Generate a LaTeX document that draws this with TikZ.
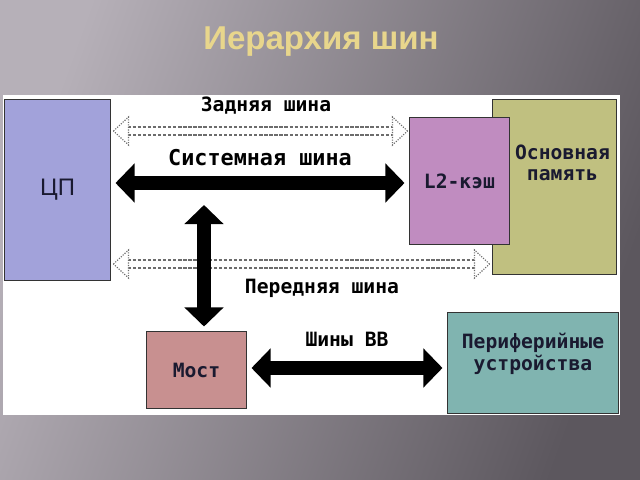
\documentclass[tikz,border=0pt]{standalone}
\usepackage{fontspec}
\setmainfont{Liberation Sans}
\newfontfamily\busfont{DejaVu Sans Mono}
\usepackage{tikz}
\usetikzlibrary{arrows.meta, positioning, calc}

\definecolor{bglight}{RGB}{182,176,184}
\definecolor{bgdark}{RGB}{92,87,94}
\definecolor{titlegold}{RGB}{232,214,140}
\definecolor{cpufill}{RGB}{162,162,218}
\definecolor{cachefill}{RGB}{192,140,192}
\definecolor{memfill}{RGB}{192,192,128}
\definecolor{bridgefill}{RGB}{200,144,144}
\definecolor{devfill}{RGB}{128,180,176}
\definecolor{boxtext}{RGB}{26,26,48}

\begin{document}
\begin{tikzpicture}[
    x=0.025cm, y=-0.025cm,
    box/.style={rectangle, draw=black!80, line width=0.7pt, inner sep=0pt, align=center, text=boxtext, font=\busfont\bfseries\fontsize{14}{16}\selectfont},
    cpubox/.style={box, fill=cpufill, minimum width=2.625cm, minimum height=4.5cm, font=\fontsize{17}{20}\selectfont},
    cachebox/.style={box, fill=cachefill, minimum width=2.475cm, minimum height=3.15cm},
    membox/.style={box, fill=memfill, minimum width=3.075cm, minimum height=4.35cm},
    bridgebox/.style={box, fill=bridgefill, minimum width=2.475cm, minimum height=1.9cm},
    devbox/.style={box, fill=devfill, minimum width=4.25cm, minimum height=2.5cm},
    inbox/.style={align=center, text=boxtext, font=\busfont\bfseries\fontsize{14}{15.5}\selectfont},
    buslabel/.style={font=\busfont\bfseries\fontsize{14}{17}\selectfont},
    bigarrow/.style={{Triangle[length=0.475cm, width=0.95cm]}-{Triangle[length=0.475cm, width=0.95cm]}, line width=0.36cm},
    buslines/.style={draw=gray!85!black, dash pattern=on 2.4pt off 1.2pt, line width=0.9pt, double=white, double distance=0.17cm},
    bushead/.style={draw=gray!85!black, densely dotted, line width=0.8pt, fill=white}
]
\useasboundingbox (0,0) rectangle (640,480);

% Background and panel
\shade[left color=bglight, right color=bgdark, shading angle=70] (0,0) rectangle (640,480);
\fill[white] (3,95) rectangle (620,415);

% Title
\node[text=titlegold, font=\bfseries\fontsize{23.5}{28}\selectfont] (title) at (321,42) {Иерархия шин};

% Boxes
\node[cpubox] (cpu) at (57.5,190) {ЦП};
\node[membox, label={[inbox, anchor=north, xshift=0.2cm, yshift=-1.0cm]north:Основная\\память}] (mem) at (554.5,187) {};
\node[cachebox] (l2) at (459.5,181) {L2-кэш};
\node[bridgebox] (most) at (196.5,370) {Мост};
\node[devbox, label={[inbox, anchor=north, yshift=-0.4cm]north:Периферийные\\устройства}] (periph) at (533,363) {};

% Bus levels
\coordinate (back) at (0,131);
\coordinate (sys) at (0,183);
\coordinate (front) at (0,264);
\coordinate (io) at (0,368);
\coordinate (vtop) at (204,205);

% Back bus
\draw[buslines] ($(cpu.east |- back)+(17,0)$) -- ($(l2.west |- back)+(-16,0)$);
\draw[bushead] ($(cpu.east |- back)+(3,0)$) -- ++(15,-14) -- ++(0,28) -- cycle;
\draw[bushead] ($(l2.west |- back)+(-2,0)$) -- ++(-15,-14) -- ++(0,28) -- cycle;

% Front bus
\draw[buslines] ($(cpu.east |- front)+(17,0)$) -- ($(mem.west |- front)+(-17,0)$);
\draw[bushead] ($(cpu.east |- front)+(3,0)$) -- ++(15,-14) -- ++(0,28) -- cycle;
\draw[bushead] ($(mem.west |- front)+(-3,0)$) -- ++(-15,-14) -- ++(0,28) -- cycle;

% System bus, bridge link, I/O bus
\draw[bigarrow] ($(cpu.east |- sys)+(5,0)$) -- ($(l2.west |- sys)+(-5,0)$);
\draw[bigarrow] (vtop) -- ($(vtop |- most.north)+(0,-5)$);
\draw[bigarrow] ($(most.east |- io)+(5,0)$) -- ($(periph.west |- io)+(-5,0)$);

% Labels
\node[buslabel] (backlabel) at (266,106) {Задняя шина};
\node[buslabel, font=\busfont\bfseries\fontsize{15.5}{17}\selectfont] (syslabel) at (260,158) {Системная шина};
\node[buslabel] (frontlabel) at (322,288) {Передняя шина};
\node[buslabel] (iolabel) at (347,339) {Шины ВВ};

\end{tikzpicture}
\end{document}
